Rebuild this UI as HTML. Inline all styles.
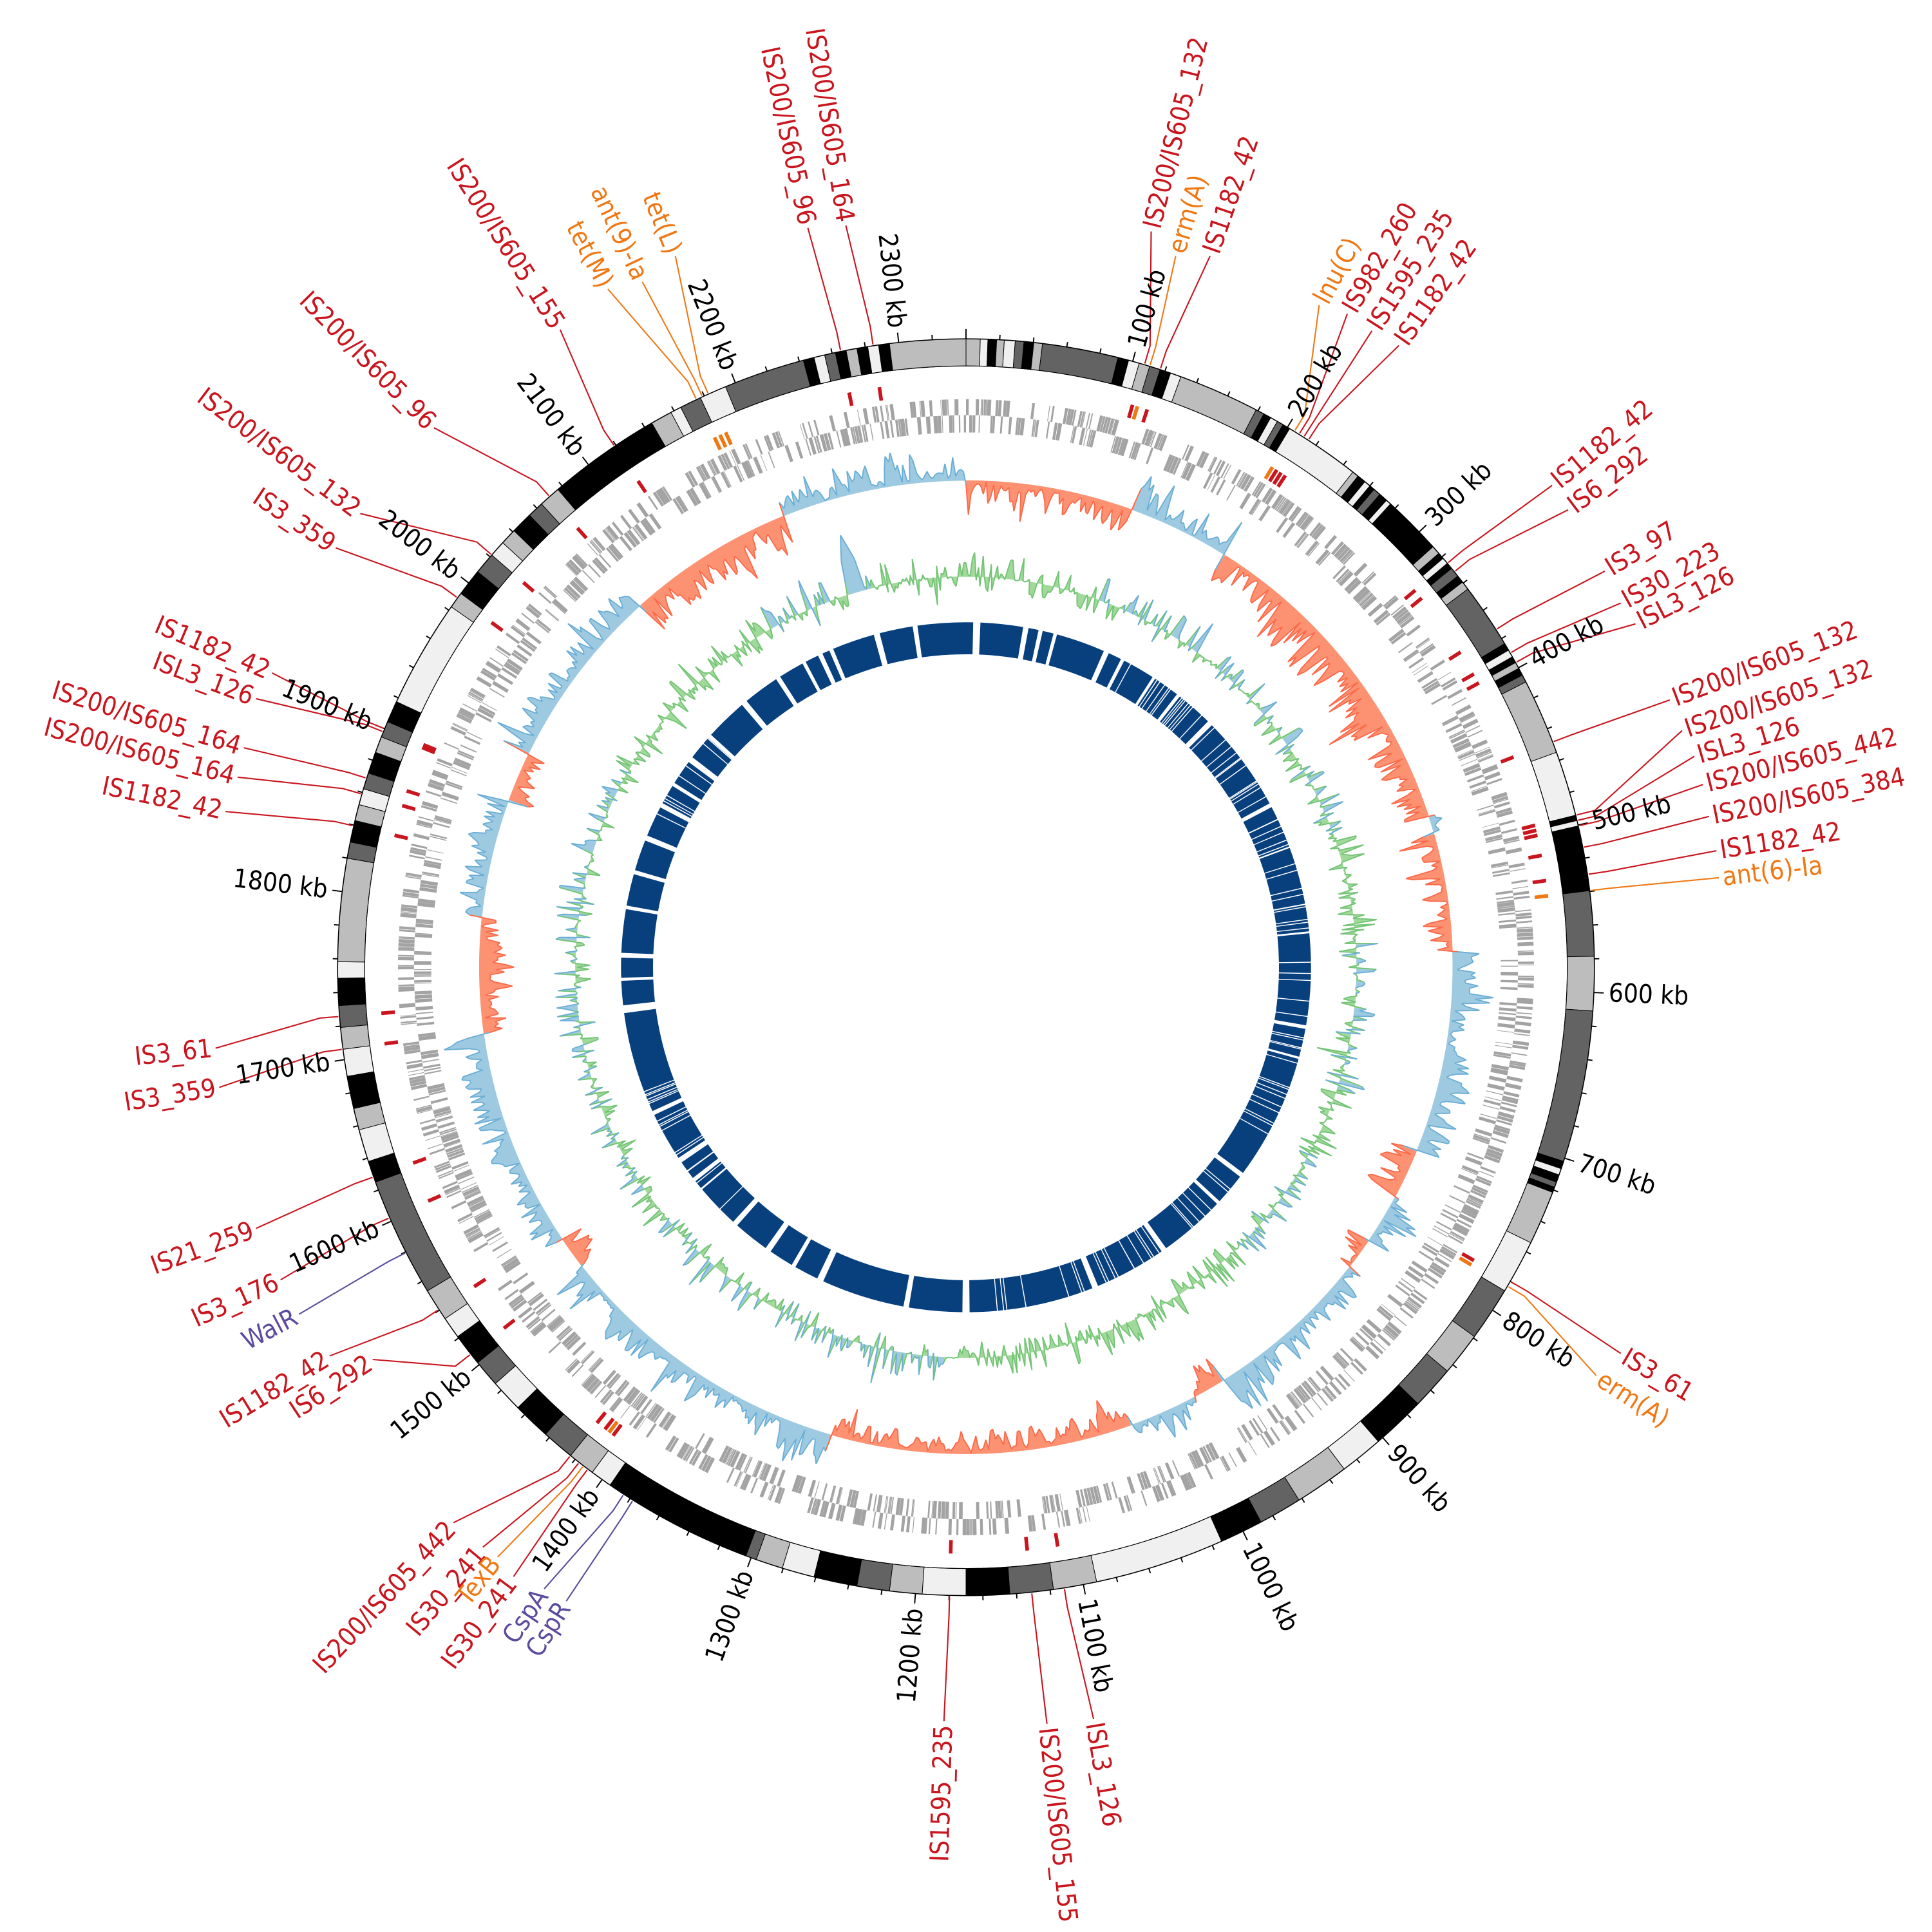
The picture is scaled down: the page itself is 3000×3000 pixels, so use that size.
<!DOCTYPE html>
<html><head><meta charset="utf-8">
<style>
html,body{margin:0;padding:0;background:#fff;}
svg{display:block;}
text{font-family:"DejaVu Sans Condensed","DejaVu Sans","Liberation Sans",sans-serif;font-stretch:condensed;font-size:21px;}
.tk{fill:#000;}
</style></head>
<body>
<svg id="s" xmlns="http://www.w3.org/2000/svg" width="3000" height="3000" viewBox="0 0 1568 1568">
<rect width="1568" height="1568" fill="#fff"/>
<g id="tracks"></g>
<g id="ring"></g>
<g id="leaders" fill="none" stroke-width="1.1"></g>
<g id="labels">
<text class="lb" x="655" y="182" fill="#c9151e" k="348.5">IS200/IS605_96</text>
<text class="lb" x="686" y="180" fill="#c9151e" k="351.5">IS200/IS605_164</text>
<text class="lb" x="935" y="185" fill="#c9151e" k="16.5">IS200/IS605_132</text>
<text class="lb" x="955" y="205" fill="#f07814" k="17">erm(A)</text>
<text class="lb" x="983" y="205" fill="#c9151e" k="18">IS1182_42</text>
<text class="lb" x="1072" y="245" fill="#f07814" k="31.5">lnu(C)</text>
<text class="lb" x="1095" y="252" fill="#c9151e" k="32">IS982_260</text>
<text class="lb" x="1115" y="266" fill="#c9151e" k="32.5">IS1595_235</text>
<text class="lb" x="1137" y="278" fill="#c9151e" k="33">IS1182_42</text>
<text class="lb" x="1262" y="392" fill="#c9151e" k="50">IS1182_42</text>
<text class="lb" x="1275" y="412" fill="#c9151e" k="51">IS6_292</text>
<text class="lb" x="1305" y="462" fill="#c9151e" k="57.5">IS3_97</text>
<text class="lb" x="1318" y="488" fill="#c9151e" k="60">IS30_223</text>
<text class="lb" x="1330" y="505" fill="#c9151e" k="61">ISL3_126</text>
<text class="lb" x="1358" y="567" fill="#c9151e" k="69">IS200/IS605_132</text>
<text class="lb" x="1368" y="592" fill="#c9151e" k="76">IS200/IS605_132</text>
<text class="lb" x="1378" y="613" fill="#c9151e" k="76.5">ISL3_126</text>
<text class="lb" x="1385" y="636" fill="#c9151e" k="77">IS200/IS605_442</text>
<text class="lb" x="1390" y="662" fill="#c9151e" k="79">IS200/IS605_384</text>
<text class="lb" x="1396" y="690" fill="#c9151e" k="81.5">IS1182_42</text>
<text class="lb" x="1398" y="712" fill="#f07814" k="83">ant(6)-Ia</text>
<text class="lb" x="1318" y="1100" fill="#c9151e" k="120">IS3_61</text>
<text class="lb" x="1298" y="1118" fill="#f07814" k="120.5">erm(A)</text>
<text class="lb" x="766" y="1400" fill="#c9151e" k="181.5">IS1595_235</text>
<text class="lb" x="850" y="1402" fill="#c9151e" k="174">IS200/IS605_155</text>
<text class="lb" x="888" y="1398" fill="#c9151e" k="171">ISL3_126</text>
<text class="lb" x="366" y="1238" fill="#c9151e" k="219">IS200/IS605_442</text>
<text class="lb" x="390" y="1258" fill="#c9151e" k="218">IS30_241</text>
<text class="lb" x="402" y="1266" fill="#f07814" k="217.5">TexB</text>
<text class="lb" x="415" y="1282" fill="#c9151e" k="217">IS30_241</text>
<text class="lb" x="440" y="1292" fill="#5b4a9e" k="213">CspA</text>
<text class="lb" x="458" y="1302" fill="#5b4a9e" k="212">CspR</text>
<text class="lb" x="300" y="1105" fill="#c9151e" k="232">IS6_292</text>
<text class="lb" x="265" y="1102" fill="#c9151e" k="237">IS1182_42</text>
<text class="lb" x="240" y="1068" fill="#5b4a9e" k="243">WalR</text>
<text class="lb" x="225" y="1040" fill="#c9151e" k="246.5">IS3_176</text>
<text class="lb" x="205" y="998" fill="#c9151e" k="250.5">IS21_259</text>
<text class="lb" x="175" y="883" fill="#c9151e" k="262.5">IS3_359</text>
<text class="lb" x="172" y="851" fill="#c9151e" k="265.5">IS3_61</text>
<text class="lb" x="180" y="658" fill="#c9151e" k="283">IS1182_42</text>
<text class="lb" x="190" y="630" fill="#c9151e" k="286">IS200/IS605_164</text>
<text class="lb" x="195" y="606" fill="#c9151e" k="287.5">IS200/IS605_164</text>
<text class="lb" x="205" y="566" fill="#c9151e" k="292">ISL3_126</text>
<text class="lb" x="218" y="545" fill="#c9151e" k="292.3">IS1182_42</text>
<text class="lb" x="270" y="443" fill="#c9151e" k="306">IS3_359</text>
<text class="lb" x="290" y="415" fill="#c9151e" k="311">IS200/IS605_132</text>
<text class="lb" x="350" y="345" fill="#c9151e" k="318.5">IS200/IS605_96</text>
<text class="lb" x="453" y="265" fill="#c9151e" k="326">IS200/IS605_155</text>
<text class="lb" x="492" y="232" fill="#f07814" k="334.6">tet(M)</text>
<text class="lb" x="520" y="226" fill="#f07814" k="335.2">ant(9)-Ia</text>
<text class="lb" x="547" y="205" fill="#f07814" k="335.8">tet(L)</text>
</g>
<g id="ticks">
<text class="tk">100 kb</text><text class="tk">200 kb</text><text class="tk">300 kb</text><text class="tk">400 kb</text>
<text class="tk">500 kb</text><text class="tk">600 kb</text><text class="tk">700 kb</text><text class="tk">800 kb</text>
<text class="tk">900 kb</text><text class="tk">1000 kb</text><text class="tk">1100 kb</text><text class="tk">1200 kb</text>
<text class="tk">1300 kb</text><text class="tk">1400 kb</text><text class="tk">1500 kb</text><text class="tk">1600 kb</text>
<text class="tk">1700 kb</text><text class="tk">1800 kb</text><text class="tk">1900 kb</text><text class="tk">2000 kb</text>
<text class="tk">2100 kb</text><text class="tk">2200 kb</text><text class="tk">2300 kb</text>
</g>
</svg>
<script>
(function(){
var NS="http://www.w3.org/2000/svg",cx=784,cy=785,L=2340;
function P(r,t){var a=t*Math.PI/180;return [cx+r*Math.sin(a),cy-r*Math.cos(a)];}
function f(n){return n.toFixed(2);}
function arc(r0,r1,t0,t1){var lg=(t1-t0)>180?1:0;var a=P(r1,t0),b=P(r1,t1),c=P(r0,t1),d=P(r0,t0);
return "M"+f(a[0])+","+f(a[1])+"A"+r1+","+r1+" 0 "+lg+" 1 "+f(b[0])+","+f(b[1])+"L"+f(c[0])+","+f(c[1])+"A"+r0+","+r0+" 0 "+lg+" 0 "+f(d[0])+","+f(d[1])+"Z";}
function el(tag,attrs,parent){var e=document.createElementNS(NS,tag);for(var k in attrs)e.setAttribute(k,attrs[k]);parent.appendChild(e);return e;}
var seed=12345;function rnd(){seed=(seed*1103515245+12345)%2147483648;return seed/2147483648;}
var tracks=document.getElementById("tracks"),ring=document.getElementById("ring");

var C={K:"#000000",D:"#636363",L:"#bdbdbd",W:"#f0f0f0"};
var S=[[0,1.3,'L'],[1.3,2,'W'],[2,2.8,'K'],[2.8,3.5,'L'],[3.5,4.5,'W'],[4.5,5.3,'D'],[5.3,6.2,'K'],[6.2,7,'L'],
[7,14,'D'],[14,15,'K'],[15,16,'W'],[16,17,'L'],[17,18,'D'],[18,19,'K'],[19,20,'W'],[20,27.5,'L'],
[27.5,28.3,'D'],[28.3,29,'K'],[29,29.7,'W'],[29.7,30.3,'D'],[30.3,31,'K'],[31,38,'W'],
[38,38.6,'L'],[38.6,39.4,'K'],[39.4,40,'W'],[40,40.5,'K'],[40.5,41.2,'D'],[41.2,42,'K'],[42,42.5,'W'],[42.5,48,'K'],
[48,48.8,'L'],[48.8,49.4,'K'],[49.4,50,'W'],[50,50.6,'K'],[50.6,51.5,'D'],[51.5,52.2,'K'],[52.2,53,'L'],[53,59,'D'],
[59,59.7,'K'],[59.7,60.4,'W'],[60.4,61,'K'],[61,61.6,'L'],[61.6,62.3,'K'],[62.3,63,'D'],
[63,70,'L'],[70,76,'W'],[76,76.5,'K'],[76.5,77,'W'],[77,83,'K'],[83,89,'D'],[89,94,'L'],[94,108,'D'],
[108,108.7,'K'],[108.7,109.3,'W'],[109.3,110,'K'],[110,110.5,'D'],[110.5,111,'K'],
[111,116,'L'],[116,121,'W'],[121,126,'D'],[126,130,'L'],[130,134,'D'],[134,139,'K'],[139,143,'W'],[143,148,'L'],[148,152,'D'],[152,156,'K'],[156,168,'W'],[168,172,'L'],[172,176,'D'],[176,180,'K'],[180,184,'W'],[184,187,'L'],[187,190,'D'],[190,194,'K'],[194,197,'W'],[197,199.5,'L'],[199.5,200.5,'D'],[200.5,214.5,'K'],[214.5,216.5,'W'],[216.5,219,'L'],[219,222,'D'],[222,225.5,'K'],[225.5,228.5,'W'],[228.5,231,'D'],[231,234,'K'],[234,236,'W'],[236,239,'L'],[239,250,'D'],[250,252,'K'],[252,255,'W'],[255,257,'L'],[257,260,'K'],[260,262.5,'W'],[262.5,264.5,'L'],[264.5,266.5,'D'],[266.5,269,'K'],[269,270.5,'W'],[270.5,280,'L'],[280,281.5,'D'],[281.5,283.5,'K'],[283.5,285,'L'],[285,286.5,'W'],[286.5,288,'D'],[288,290,'K'],[290,291.5,'L'],[291.5,293,'D'],[293,295,'K'],[295,305,'W'],[305,306.5,'L'],[306.5,309,'K'],[309,311,'D'],[311,312.5,'W'],[312.5,314,'L'],[314,316,'K'],[316,317.5,'D'],[317.5,319.5,'L'],[319.5,330,'K'],[330,332,'L'],[332,333,'W'],[333,335,'D'],[335,337.5,'W'],[337.5,345,'D'],
[345,346,'K'],[346,347,'W'],[347,348,'D'],[348,349,'K'],[349,350,'L'],[350,351,'K'],[351,352,'W'],[352,353,'K'],[353,360,'L']];
var R0=488,R1=510;
S.forEach(function(s){el("path",{d:arc(R0,R1,s[0],s[1]),fill:C[s[2]],stroke:"#000","stroke-width":"0.5"},ring);});
el("circle",{cx:cx,cy:cy,r:R1,fill:"none",stroke:"#000","stroke-width":"0.8"},ring);
el("circle",{cx:cx,cy:cy,r:R0,fill:"none",stroke:"#000","stroke-width":"0.6"},ring);
var td="";
for(var kb=0;kb<L;kb+=20){var t=kb/L*360;var len=(kb%100==0)?8:4;var a=P(R1,t),b=P(R1+len,t);td+="M"+f(a[0])+","+f(a[1])+"L"+f(b[0])+","+f(b[1]);}
el("path",{d:td,stroke:"#000","stroke-width":"1",fill:"none"},ring);

var gd0="",gd1="";
var t=0;
while(t<360){var len=0.05+rnd()*0.35;var lane=rnd()<0.5;
 if(lane)gd0+=arc(448,461,t,Math.min(360,t+len));else gd1+=arc(434,448,t,Math.min(360,t+len));
 t+=len+(rnd()<0.12?rnd()*0.9:rnd()*0.06);}
el("path",{d:gd0,fill:"#a3a3a3"},tracks);
el("path",{d:gd1,fill:"#a3a3a3"},tracks);

var md="",mo="";
document.querySelectorAll(".lb").forEach(function(e){var ph=parseFloat(e.getAttribute("k"));var m=arc(465,476,ph-0.18,ph+0.18);
 if(e.getAttribute("fill")=="#c9151e")md+=m;else if(e.getAttribute("fill")=="#f07814")mo+=m;});
el("path",{d:md,fill:"#c9151e"},tracks);
el("path",{d:mo,fill:"#f07814"},tracks);

function areaTrack(base,vals,step,colorFn){
 var fills={},strokes={};
 for(var i=0;i<vals.length;i++){
  var t0=i*step,t1=(i+1)*step,v0=vals[i],v1=vals[(i+1)%vals.length];
  var c=colorFn(i,v0);
  var a=P(base,t0),b=P(base+v0,t0),cc=P(base+v1,t1),d=P(base,t1);
  fills[c[0]]=(fills[c[0]]||"")+"M"+f(a[0])+","+f(a[1])+"L"+f(b[0])+","+f(b[1])+"L"+f(cc[0])+","+f(cc[1])+"L"+f(d[0])+","+f(d[1])+"Z";
  strokes[c[1]]=(strokes[c[1]]||"")+"M"+f(b[0])+","+f(b[1])+"L"+f(cc[0])+","+f(cc[1]);
 }
 for(var k in fills)el("path",{d:fills[k],fill:k,stroke:k,"stroke-width":"0.3"},tracks);
 for(var k2 in strokes)el("path",{d:strokes[k2],fill:"none",stroke:k2,"stroke-width":"1"},tracks);
}
function inR(t,list){for(var i=0;i<list.length;i++)if(t>=list[i][0]&&t<list[i][1])return list[i];return null;}

var SK=[[0,12,-1,1],[12,20,-1,1],[20,32,1,1],[32,40,-1,1.1],[40,64,-1,1.6],[64,72,-1,1.1],[72,74,1,0.8],[74,88,-1,1],[88,112,1,1.1],[112,118,-1,1.2],[118,124,1,1],[124,128,-1,0.9],[128,148,1,1.1],[148,152,-1,1],[152,160,1,1],[160,196,-1,0.9],[196,232,1,1.1],[232,236,-1,0.8],[236,262,1,1.1],[262,276,-1,1],[276,290,1,1],[290,296,-1,1],[296,318,1,1.1],[318,338,-1,1.3],[338,350,1,0.8],[350,360,1,0.9]];
var step=0.3,n=1200,sv=[],prev=0.5;
for(var i=0;i<n;i++){var tt=i*step;var r=inR(tt,SK)||[0,0,1,1];
 prev=0.35*prev+0.65*rnd();
 var m=0.06+0.94*Math.pow(prev,1.6);
 if(rnd()<0.08)m=0.02+rnd()*0.1;
 if(rnd()<0.06)m=Math.min(1.1,m+0.5);
 sv.push(r[2]*r[3]*m*28);}
areaTrack(395,sv,step,function(i,v){return v>=0?["#9ecae1","#6baed6"]:["#fc9272","#fb6a4a"];});

var BL=[[330,346],[20,70],[85,108],[118,136],[180,230],[235,300]];
var gv=[];
for(var i=0;i<n;i++){var tt=i*step;
 var v=(rnd()-0.45)*2; v=v*Math.abs(v);
 if(rnd()<0.1)v+= (rnd()<0.6?1:-0.8)*rnd()*1.2;
 var val=v*16;
 if(tt>342.6&&tt<345){val=20+ (1-Math.abs(tt-343.8)/1.2)*28;}
 gv.push(val);}
areaTrack(317,gv,step,function(i,v){var tt=i*step;return (v>3&&inR(tt,BL))?["#9ecae1","#6baed6"]:["#a1d99b","#74c476"];});

var G=[[-25,0.8],[-15,1],[-8.5,0.8],[1.8,1.2],[10,0.9],[12.5,0.7],[15,0.6],[24,0.9],[27,0.6],[33,0.5],[38,0.6],[45,0.9],[62,0.7],[100,0.6],[127,0.8],[133,0.6],[145,0.9],[158,1],[180,1.2],[190,0.9],[205,1.1],[210,0.7],[215,1],[222,0.9],[232,0.7],[236,0.9],[245,0.7],[263,1.3],[268,0.5],[272,0.8],[280,0.6],[286,0.7],[292,0.9],[298,0.8],[302,0.6],[307,1],[312,0.7],[320,1],[327,0.8],[332,0.6],[337,0.7]];
var gaps=G.map(function(g){var c=(g[0]+360)%360;return [c-g[1]/2,c+g[1]/2];});
var thin=[[28,120,70],[128,176,25],[224,252,20],[296,318,8]];
thin.forEach(function(th){for(var i=0;i<th[2];i++){var c=th[0]+rnd()*(th[1]-th[0]);gaps.push([c-0.08,c+0.08]);}});
gaps.sort(function(a,b){return a[0]-b[0];});
var bd="",cur=0;
gaps.forEach(function(g){if(g[0]>cur)bd+=arc(254,280,cur,g[0]);cur=Math.max(cur,g[1]);});
if(cur<360)bd+=arc(254,280,cur,360);
el("path",{d:bd,fill:"#08407e"},tracks);

var ld=document.getElementById("leaders");
document.querySelectorAll(".lb").forEach(function(e){
 var x=parseFloat(e.getAttribute("x")),y=parseFloat(e.getAttribute("y"));
 var t=Math.atan2(x-cx,-(y-cy))*180/Math.PI;if(t<0)t+=360;
 var rr=Math.hypot(x-cx,y-cy);
 if(t<180){e.setAttribute("transform","rotate("+f(t-90)+" "+x+" "+y+")");e.setAttribute("text-anchor","start");}
 else{e.setAttribute("transform","rotate("+f(t+90)+" "+x+" "+y+")");e.setAttribute("text-anchor","end");}
 e.setAttribute("dominant-baseline","central");
 var ph=parseFloat(e.getAttribute("k"));
 var a=P(511,ph),b=P(526,ph),c=P(rr-3,t);
 el("polyline",{points:f(a[0])+","+f(a[1])+" "+f(b[0])+","+f(b[1])+" "+f(c[0])+","+f(c[1]),stroke:e.getAttribute("fill")},ld);
});
document.querySelectorAll(".tk").forEach(function(e){
 var kb=parseInt(e.textContent,10);var t=kb/L*360;var p=P(522,t);
 e.setAttribute("x",f(p[0]));e.setAttribute("y",f(p[1]));
 if(t<180){e.setAttribute("transform","rotate("+f(t-90)+" "+f(p[0])+" "+f(p[1])+")");e.setAttribute("text-anchor","start");}
 else{e.setAttribute("transform","rotate("+f(t+90)+" "+f(p[0])+" "+f(p[1])+")");e.setAttribute("text-anchor","end");}
 e.setAttribute("dominant-baseline","central");
});
})();
</script>
</body></html>
